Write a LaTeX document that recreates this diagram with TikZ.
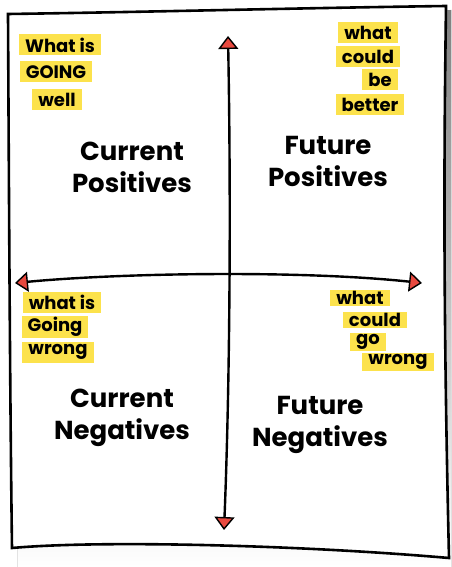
\documentclass[tikz,border=0pt]{standalone}
\usepackage{fontspec}
\setmainfont{Poppins}
\usetikzlibrary{arrows.meta}
\definecolor{hiyellow}{HTML}{FCE24C}
\definecolor{tipred}{HTML}{E8493F}
\definecolor{shade}{HTML}{E6E6E6}
\tikzset{
  hl/.style={fill=hiyellow, inner xsep=6pt, inner ysep=1pt, minimum height=21pt, font=\bfseries\fontsize{18}{18}\selectfont},
  tight/.style={minimum height=0pt, inner ysep=1.5pt},
  big/.style={font=\bfseries\fontsize{26}{32}\selectfont, align=center},
  axis/.style={line width=2.4pt, {Triangle[length=13pt,width=20pt,fill=tipred,line width=1.4pt]}-{Triangle[length=13pt,width=20pt,fill=tipred,line width=1.4pt]}},
}
\begin{document}
\begin{tikzpicture}[x=1pt,y=-1pt]
        \useasboundingbox (0,0) rectangle (451,567);
        \fill[shade] (14,20) .. controls (200,16) and (350,12) .. (451,10) -- (451,567) -- (18,567) -- cycle;
        \draw[line width=2.6pt, fill=white] (8,14) .. controls (150,12) and (300,8) .. (446,6)
              .. controls (444,150) and (443,300) .. (449,558)
              .. controls (300,545) and (100,540) .. (12,548)
              .. controls (10,400) and (9,200) .. (8,14) -- cycle;
        \coordinate (top) at (228,36);
        \coordinate (bot) at (224,530);
        \coordinate (left) at (15,283);
        \coordinate (right) at (422,283);
        \draw[axis] (top) .. controls (231,200) and (230,380) .. (bot);
        \draw[axis] (left) .. controls (120,273) and (300,270) .. (right);
        \node[hl] (whatis1) at (60,45) {What is};
        \node[hl] (going1) at (56,72) {GOING};
        \node[hl] (well) at (57,100) {well};
        \node[hl] (what1) at (368,33) {what};
        \node[hl] (could1) at (368,57) {could};
        \node[hl] (be) at (380,80) {be};
        \node[hl] (better) at (370,105) {better};
        \node[big] (curpos) at (132,167) {Current\\Positives};
        \node[big] (futpos) at (328,161) {Future\\Positives};
        \node[hl] (whatis2) at (62,302) {what is};
        \node[hl] (going2) at (55,327) {Going};
        \node[hl] (wrong1) at (58,352) {wrong};
        \node[hl,tight] (what2) at (360,298) {what};
        \node[hl,tight] (could2) at (375,320) {could};
        \node[hl,tight] (go) at (368,342) {go};
        \node[hl,tight] (wrong2) at (398,362) {wrong};
        \node[big] (curneg) at (122,418) {Current\\Negatives};
        \node[big] (futneg) at (320,425) {Future\\Negatives};
\end{tikzpicture}
\end{document}
